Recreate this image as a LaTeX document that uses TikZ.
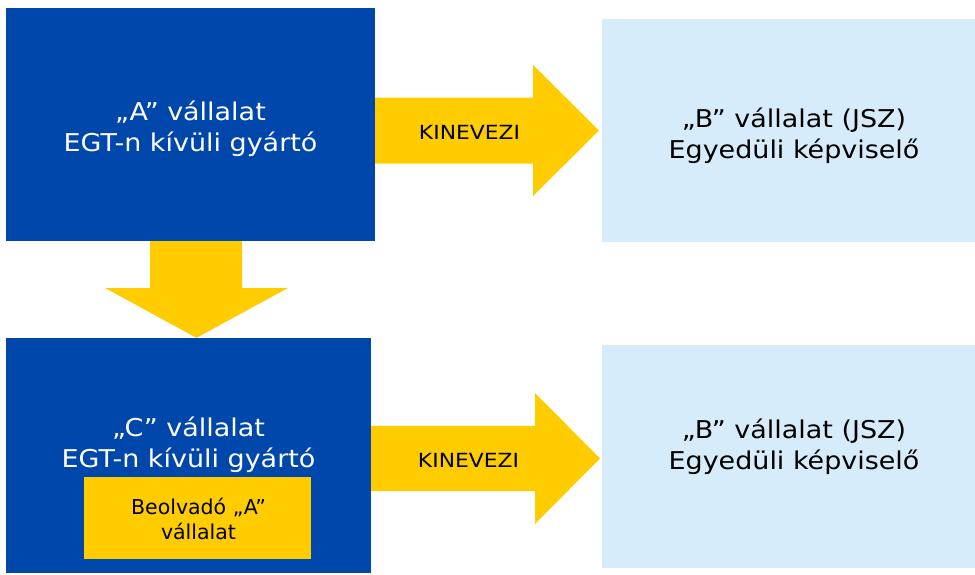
\documentclass[tikz,border=0pt]{standalone}
\usepackage{fontspec}
\setmainfont{DejaVu Sans}
\newfontfamily\wideface[FakeStretch=1.1]{DejaVu Sans}
\newfontfamily\midface[FakeStretch=1.12]{DejaVu Sans}
\definecolor{eublue}{RGB}{0,71,171}
\definecolor{euyellow}{RGB}{255,204,0}
\definecolor{lightbox}{RGB}{214,236,250}
\tikzset{
  box/.style={draw=none, inner sep=0pt, outer sep=0pt},
  bluebox/.style={box, fill=eublue},
  lightb/.style={box, fill=lightbox},
  yellowbox/.style={box, fill=euyellow},
  blockarrow/.style={fill=euyellow, draw=none},
  maintext/.style={inner sep=0pt, anchor=base, font=\wideface\fontsize{24.5}{29}\selectfont},
  whitetext/.style={maintext, text=white},
  blacktext/.style={maintext, text=black},
  arrowtext/.style={inner sep=0pt, anchor=base, text=black, font=\midface\fontsize{19.5}{24}\selectfont},
  smalltext/.style={inner sep=0pt, anchor=base, text=black, font=\fontsize{20.5}{24}\selectfont}
}
\begin{document}
\begin{tikzpicture}[x=1pt,y=-1pt]
\useasboundingbox (0,0) rectangle (975,574);
\fill[white] (0,0) rectangle (975,574);
% boxes
\node[bluebox, minimum width=369pt, minimum height=233pt] (A) at (190.5,124.5) {};
\node[lightb, minimum width=373pt, minimum height=222.7pt] (B1) at (788.5,130.3) {};
\node[bluebox, minimum width=365pt, minimum height=235pt] (C) at (188.5,455.5) {};
\node[lightb, minimum width=373pt, minimum height=223pt] (B2) at (788.5,456.2) {};
\node[yellowbox, minimum width=227pt, minimum height=82pt] (D) at (197.5,518) {};
% block arrows
\fill[blockarrow] (375,97.5) -- (533,97.5) -- (533,65) -- (599,130.5) -- (533,196) -- (533,163.5) -- (375,163.5) -- cycle;
\fill[blockarrow] (371,425.8) -- (535,425.8) -- (535,393) -- (600,458.5) -- (535,524) -- (535,491) -- (371,491) -- cycle;
\fill[blockarrow] (150,241) -- (242,241) -- (242,288) -- (288,288) -- (196.5,337.8) -- (105,288) -- (150,288) -- cycle;
% texts
\node[whitetext] (A1) at (190.5,120) {„A” vállalat};
\node[whitetext] (A2) at (190.5,151) {EGT-n kívüli gyártó};
\node[blacktext] (B1a) at (794,127.5) {„B” vállalat (JSZ)};
\node[blacktext] (B1b) at (794,158.5) {Egyedüli képviselő};
\node[blacktext] (B2a) at (794,438) {„B” vállalat (JSZ)};
\node[blacktext] (B2b) at (794,469.5) {Egyedüli képviselő};
\node[whitetext] (C1) at (188.5,436) {„C” vállalat};
\node[whitetext] (C2) at (188.5,467) {EGT-n kívüli gyártó};
\node[smalltext] (D1) at (198.5,514.3) {Beolvadó „A”};
\node[smalltext] (D2) at (198.5,539.3) {vállalat};
\node[arrowtext] (K1) at (469.5,139) {KINEVEZI};
\node[arrowtext] (K2) at (468.5,467.3) {KINEVEZI};
\end{tikzpicture}
\end{document}
